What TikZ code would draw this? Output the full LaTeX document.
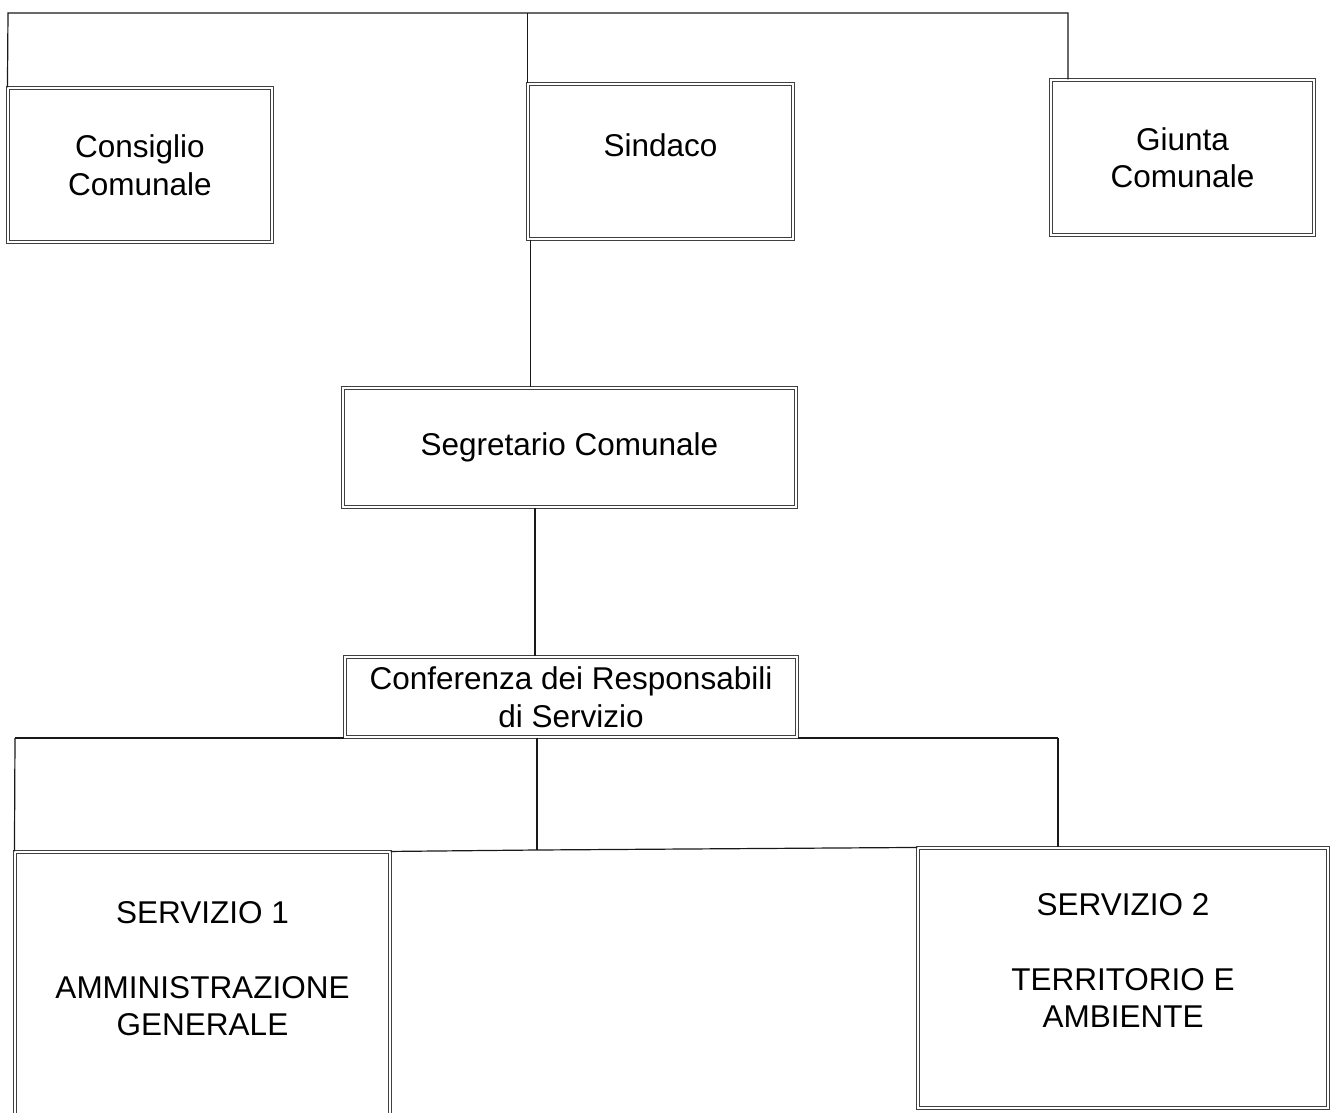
\documentclass[tikz,border=0pt]{standalone}
\usepackage{fontspec}
\setmainfont{Liberation Sans}
\usetikzlibrary{positioning}

\begin{document}
\begin{tikzpicture}[x=1pt,y=-1pt,
  ufficio/.style={draw=black!75,double,double distance=1.3pt,line width=1.1pt,
    rectangle,align=center,inner sep=0pt,font=\fontsize{31.5}{37.5}\selectfont},
  scritta/.style={align=center,inner sep=0pt,font=\fontsize{31.5}{37.5}\selectfont},
  filo/.style={line width=1.2pt,black!90}]
\useasboundingbox (0,0) rectangle (1333,1113);
\fill[white] (0,0) rectangle (1333,1113);
\coordinate (tl) at (8,13);
\coordinate (tr) at (1068,13);
\coordinate (spine) at (535,0);
\coordinate (bl) at (15,738);
\coordinate (br) at (1058,738);
\coordinate (mid) at (537,850);
\node[ufficio,minimum width=264pt,minimum height=154pt] (cons) at (140,165) {Consiglio\\Comunale};
\node[ufficio,minimum width=265pt,minimum height=155pt,
  label={[scritta,yshift=16.5pt]center:Sindaco}] (sind) at (660.5,161.5) {};
\node[ufficio,minimum width=263pt,minimum height=155pt] (giun) at (1182.5,157.5) {Giunta\\Comunale};
\node[ufficio,minimum width=453pt,minimum height=119pt] (segr) at (569.5,447.5) {Segretario Comunale};
\node[ufficio,minimum width=452pt,minimum height=80pt] (conf) at (571,697) {Conferenza dei Responsabili\\di Servizio};
\node[ufficio,minimum width=375pt,minimum height=270pt,
  label={[scritta,yshift=18.5pt]center:SERVIZIO 1\\[37.5pt]AMMINISTRAZIONE\\GENERALE}] (serv1) at (202.5,987) {};
\node[ufficio,minimum width=410pt,minimum height=260pt,
  label={[scritta,yshift=17.5pt]center:SERVIZIO 2\\[37.5pt]TERRITORIO E\\AMBIENTE}] (serv2) at (1123,978) {};
\draw[filo] (cons.north west) -- (tl) -- (tr) -- (giun.north -| tr);
\draw[filo] (sind.north west) -- (sind.north west |- tl);
\draw[filo] ([xshift=3pt]sind.south west) -- ([xshift=3pt]sind.south west |- segr.north);
\draw[filo] (segr.south -| spine) -- (conf.north -| spine);
\draw[filo] (bl) -- (conf.south west |- bl);
\draw[filo] (conf.south east |- br) -- (br);
\draw[filo] (conf.south -| mid) -- (mid);
\draw[filo] (serv1.north west) -- (bl);
\draw[filo] (br) -- (serv2.north -| br);
\draw[filo] (serv1.north east) -- (mid) -- (serv2.north west);
\end{tikzpicture}
\end{document}
